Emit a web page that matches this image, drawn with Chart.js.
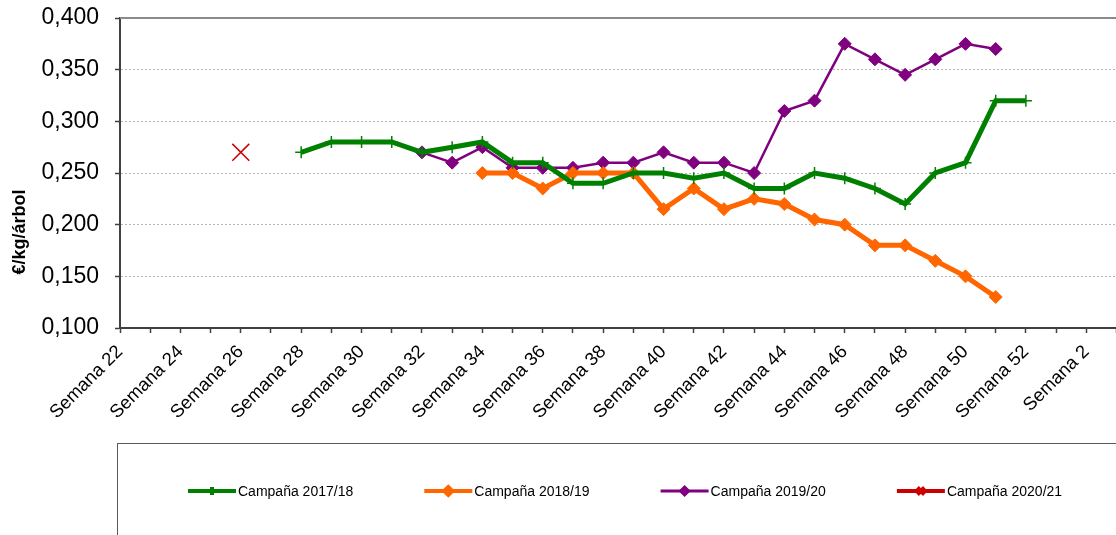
<!DOCTYPE html>
<html>
<head>
<meta charset="utf-8">
<script src="https://cdn.jsdelivr.net/npm/chart.js@4.4.1/dist/chart.umd.min.js"></script>
<style>
html, body { margin: 0; padding: 0; background: #fff; overflow: hidden; }
#wrap { width: 1116px; height: 535px; overflow: hidden; }
</style>
</head>
<body>
<div id="wrap"><canvas id="chart" width="1130" height="535"></canvas></div>
<script>
// weeks (Semana 22 .. Semana 3 of next year)
const weeks = [
	'Semana 22', 'Semana 23', 'Semana 24', 'Semana 25', 'Semana 26', 'Semana 27',
	'Semana 28', 'Semana 29', 'Semana 30', 'Semana 31', 'Semana 32', 'Semana 33',
	'Semana 34', 'Semana 35', 'Semana 36', 'Semana 37', 'Semana 38', 'Semana 39',
	'Semana 40', 'Semana 41', 'Semana 42', 'Semana 43', 'Semana 44', 'Semana 45',
	'Semana 46', 'Semana 47', 'Semana 48', 'Semana 49', 'Semana 50', 'Semana 51',
	'Semana 52', 'Semana 1', 'Semana 2', 'Semana 3'
];

const campana1718 = [
	null, null, null, null, null, null,
	0.270, 0.280, 0.280, 0.280, 0.270, 0.275,
	0.280, 0.260, 0.260, 0.240, 0.240, 0.250,
	0.250, 0.245, 0.250, 0.235, 0.235, 0.250,
	0.245, 0.235, 0.220, 0.250, 0.260, 0.320,
	0.320, null, null, null
];
const campana1819 = [
	null, null, null, null, null, null,
	null, null, null, null, null, null,
	0.250, 0.250, 0.235, 0.250, 0.250, 0.250,
	0.215, 0.235, 0.215, 0.225, 0.220, 0.205,
	0.200, 0.180, 0.180, 0.165, 0.150, 0.130,
	null, null, null, null
];
const campana1920 = [
	null, null, null, null, null, null,
	null, null, null, null, 0.270, 0.260,
	0.275, 0.255, 0.255, 0.255, 0.260, 0.260,
	0.270, 0.260, 0.260, 0.250, 0.310, 0.320,
	0.375, 0.360, 0.345, 0.360, 0.375, 0.370,
	null, null, null, null
];
const campana2021 = [
	null, null, null, null, 0.270, null,
	null, null, null, null, null, null,
	null, null, null, null, null, null,
	null, null, null, null, null, null,
	null, null, null, null, null, null,
	null, null, null, null
];

const seriesNames = ['Campaña 2017/18', 'Campaña 2018/19', 'Campaña 2019/20', 'Campaña 2020/21'];
const yTicks = [0.100, 0.150, 0.200, 0.250, 0.300, 0.350, 0.400];

const FONT = "'Liberation Sans', Arial, sans-serif";

// top frame line, y title, legend box
const extras = {
	id: 'extras',
	afterDraw(chart) {
		const ctx = chart.ctx;
		const area = chart.chartArea;
		ctx.save();
		ctx.strokeStyle = '#8a8a8a';
		ctx.lineWidth = 2;
		ctx.beginPath();
		ctx.moveTo(area.left, area.top);
		ctx.lineTo(area.right, area.top);
		ctx.stroke();

		ctx.translate(20, 232);
		ctx.rotate(-Math.PI / 2);
		ctx.fillStyle = '#000';
		ctx.font = 'bold 18px ' + FONT;
		ctx.textAlign = 'center';
		ctx.textBaseline = 'middle';
		ctx.fillText('€/kg/árbol', 0, 0);
		ctx.restore();

		// legend
		ctx.save();
		ctx.strokeStyle = '#5a5a5a';
		ctx.lineWidth = 1;
		ctx.strokeRect(117.5, 443.5, 1100, 200);
		ctx.font = '14px ' + FONT;
		ctx.textBaseline = 'middle';
		chart.data.datasets.forEach((ds, i) => {
			const x0 = 188 + i * 236.3;
			const y = 491;
			ctx.strokeStyle = ds.borderColor;
			ctx.lineWidth = ds.legendLine;
			ctx.beginPath();
			ctx.moveTo(x0, y);
			ctx.lineTo(x0 + 48, y);
			ctx.stroke();
			ctx.fillStyle = ds.pointBackgroundColor;
			ctx.strokeStyle = ds.pointBorderColor;
			Chart.helpers.drawPoint(ctx, {
				pointStyle: ds.pointStyle,
				radius: ds.legendRadius,
				borderWidth: ds.pointBorderWidth,
				rotation: 0
			}, x0 + 24, y);
			ctx.fillStyle = '#000';
			ctx.fillText(ds.label, x0 + 50, y + 1);
		});
		ctx.restore();
	}
};

new Chart(document.getElementById('chart'), {
	type: 'line',
	data: {
		labels: weeks,
		datasets: [
			{
				label: seriesNames[0],
				data: campana1718,
				borderColor: '#008000',
				backgroundColor: '#008000',
				borderWidth: 5,
				pointStyle: 'cross',
				pointRadius: 6,
				pointBorderWidth: 1.5,
				pointBorderColor: '#008000',
				pointBackgroundColor: '#008000',
				legendLine: 4,
				legendRadius: 4
			},
			{
				label: seriesNames[1],
				data: campana1819,
				borderColor: '#ff6600',
				backgroundColor: '#ff6600',
				borderWidth: 5,
				pointStyle: 'rectRot',
				pointRadius: 6.5,
				pointBorderWidth: 1,
				pointBorderColor: '#ff6600',
				pointBackgroundColor: '#ff6600',
				legendLine: 4,
				legendRadius: 4
			},
			{
				label: seriesNames[2],
				data: campana1920,
				borderColor: '#800080',
				backgroundColor: '#800080',
				borderWidth: 2.5,
				pointStyle: 'rectRot',
				pointRadius: 6.5,
				pointBorderWidth: 1,
				pointBorderColor: '#800080',
				pointBackgroundColor: '#800080',
				legendLine: 3,
				legendRadius: 4
			},
			{
				label: seriesNames[3],
				data: campana2021,
				borderColor: '#cc0000',
				backgroundColor: '#cc0000',
				borderWidth: 4,
				pointStyle: 'crossRot',
				pointRadius: 12,
				pointBorderWidth: 1.5,
				pointBorderColor: '#cc0000',
				pointBackgroundColor: '#cc0000',
				legendLine: 4,
				legendRadius: 5
			}
		]
	},
	options: {
		responsive: false,
		animation: false,
		events: [],
		layout: { padding: { top: 18, right: 6, bottom: 0, left: 0 } },
		elements: { line: { tension: 0 } },
		plugins: {
			legend: { display: false },
			tooltip: { enabled: false }
		},
		scales: {
			x: {
				offset: false,
				grid: {
					display: true,
					drawOnChartArea: false,
					drawTicks: true,
					tickLength: 5,
					tickColor: '#404040',
					tickWidth: 1.5
				},
				border: { display: true, color: '#404040', width: 2 },
				ticks: {
					autoSkip: false,
					minRotation: 45,
					maxRotation: 45,
					padding: 8,
					color: '#000',
					font: { family: FONT, size: 18.5 },
					callback: function (value, index) {
						return index % 2 === 0 ? this.getLabelForValue(value) : '';
					}
				},
				afterFit(scale) {
					scale.height = 207;
					scale.paddingLeft = 0;
					scale.paddingRight = 0;
				}
			},
			y: {
				min: yTicks[0],
				max: yTicks[yTicks.length - 1],
				afterBuildTicks(scale) {
					scale.ticks = yTicks.map(v => ({ value: v }));
				},
				grid: {
					color: '#b4b4b4',
					lineWidth: 1,
					drawTicks: true,
					tickLength: 5,
					tickColor: '#404040',
					tickWidth: 1.5
				},
				border: { display: true, color: '#404040', width: 2, dash: [2, 2] },
				ticks: {
					padding: 16,
					color: '#000',
					font: { family: FONT, size: 23 },
					callback: v => v.toFixed(3).replace('.', ',')
				},
				afterFit(scale) {
					scale.width = 120;
					scale.paddingTop = 0;
					scale.paddingBottom = 0;
				}
			}
		}
	},
	plugins: [extras]
});
</script>
</body>
</html>
